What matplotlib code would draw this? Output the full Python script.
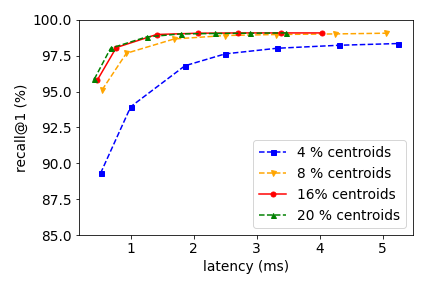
import matplotlib
matplotlib.use("Agg")
import matplotlib.pyplot as plt

labels = ["4 % centroids", "8 % centroids", "16% centroids", "20 % centroids"]

lat_4 = [0.52, 1.00, 1.86, 2.50, 3.32, 4.31, 5.24]
rec_4 = [89.3, 93.95, 96.8, 97.63, 98.02, 98.23, 98.35]

lat_8 = [0.545, 0.93, 1.69, 2.50, 3.31, 4.24, 5.05]
rec_8 = [95.12, 97.67, 98.67, 98.91, 98.98, 99.02, 99.07]

lat_16 = [0.47, 0.77, 1.41, 2.06, 2.71, 3.39, 4.03]
rec_16 = [95.81, 98.07, 98.98, 99.07, 99.09, 99.09, 99.09]

lat_20 = [0.42, 0.68, 1.25, 1.79, 2.34, 2.89, 3.46]
rec_20 = [95.86, 98.02, 98.81, 99.02, 99.05, 99.07, 99.09]

fs = 13.8
fig = plt.figure(figsize=(6, 4), dpi=72)
ax = fig.add_axes([0.183, 0.184, 0.773, 0.747])
ax.plot(lat_4, rec_4, color="blue", linestyle="--", marker="s", markersize=5, linewidth=1.5, label=labels[0])
ax.plot(lat_8, rec_8, color="orange", linestyle="--", marker="v", markersize=5, linewidth=1.5, label=labels[1])
ax.plot(lat_16, rec_16, color="red", linestyle="-", marker="o", markersize=5, linewidth=1.5, label=labels[2])
ax.plot(lat_20, rec_20, color="green", linestyle="--", marker="^", markersize=5, linewidth=1.5, label=labels[3])

ax.set_ylim(85, 100)
ax.set_xticks([1, 2, 3, 4, 5])
ax.set_yticks([85, 87.5, 90, 92.5, 95, 97.5, 100])
ax.set_yticklabels(["85.0", "87.5", "90.0", "92.5", "95.0", "97.5", "100.0"])
ax.tick_params(labelsize=fs)
ax.set_xlabel("latency (ms)", fontsize=fs)
ax.set_ylabel("recall@1 (%)", fontsize=fs)
ax.legend(loc="lower right", fontsize=fs)

fig.savefig("out.png", dpi=72)
